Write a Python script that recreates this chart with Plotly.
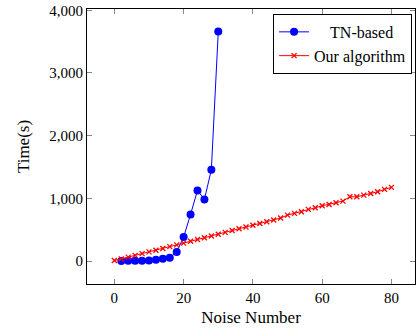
import plotly.graph_objects as go

tn_x = [2, 4, 6, 8, 10, 12, 14, 16, 18, 20, 22, 24, 26, 28, 30]
tn_y = [2, 3, 4, 6, 10, 20, 35, 52, 145, 382, 744, 1126, 983, 1455, 3660]

our_x = list(range(0, 81, 2))
our_y = [8, 35, 62, 90, 118, 146, 173, 200, 230, 258, 286, 315, 344, 372, 400,
         428, 457, 486, 514, 543, 572, 600, 628, 656, 686, 733, 760, 786, 824,
         850, 881, 903, 929, 956, 1025, 1025, 1052, 1078, 1105, 1143, 1175]

x_ticks = [0, 20, 40, 60, 80]
y_ticks = [0, 1000, 2000, 3000, 4000]

font_family = "Liberation Serif, DejaVu Serif, serif"

fig = go.Figure()
fig.add_trace(go.Scatter(
    x=tn_x, y=tn_y, name="\u00a0\u00a0\u00a0\u00a0TN-based", mode="lines+markers",
    line=dict(color="#0000ff", width=1),
    marker=dict(symbol="circle", size=8, color="#0000ff"),
))
fig.add_trace(go.Scatter(
    x=our_x, y=our_y, name="Our algorithm", mode="lines+markers",
    line=dict(color="#ff0000", width=1),
    marker=dict(symbol="x-thin", size=5, color="#ff0000",
                line=dict(color="#ff0000", width=1.3)),
))

axis_common = dict(
    showline=True, linecolor="#000000", linewidth=1, mirror="allticks",
    ticks="inside", ticklen=5, tickcolor="#888888", tickwidth=1,
    showgrid=False, zeroline=False, automargin=False,
    tickfont=dict(family=font_family, size=15, color="#000000"),
)

fig.update_layout(
    width=419, height=333,
    margin=dict(l=87, r=4, t=9, b=49),
    paper_bgcolor="white", plot_bgcolor="white",
    font=dict(family=font_family, size=15, color="#000000"),
    xaxis=dict(range=[-7.9, 86.8], tickvals=x_ticks,
               title=dict(text="Noise Number", font=dict(family=font_family, size=17), standoff=6),
               **axis_common),
    yaxis=dict(range=[-366, 4020], tickvals=y_ticks, tickformat=",",
               title=dict(text="Time(s)", font=dict(family=font_family, size=17), standoff=15),
               **axis_common),
    legend=dict(x=0.991, y=0.982, xanchor="right", yanchor="top",
                bgcolor="white", bordercolor="#000000", borderwidth=1,
                font=dict(family=font_family, size=16),
                tracegroupgap=0, itemwidth=30),
    showlegend=True,
)

fig.write_html("out.html", config={"displayModeBar": False},
               post_script="document.body.style.margin='0';")
